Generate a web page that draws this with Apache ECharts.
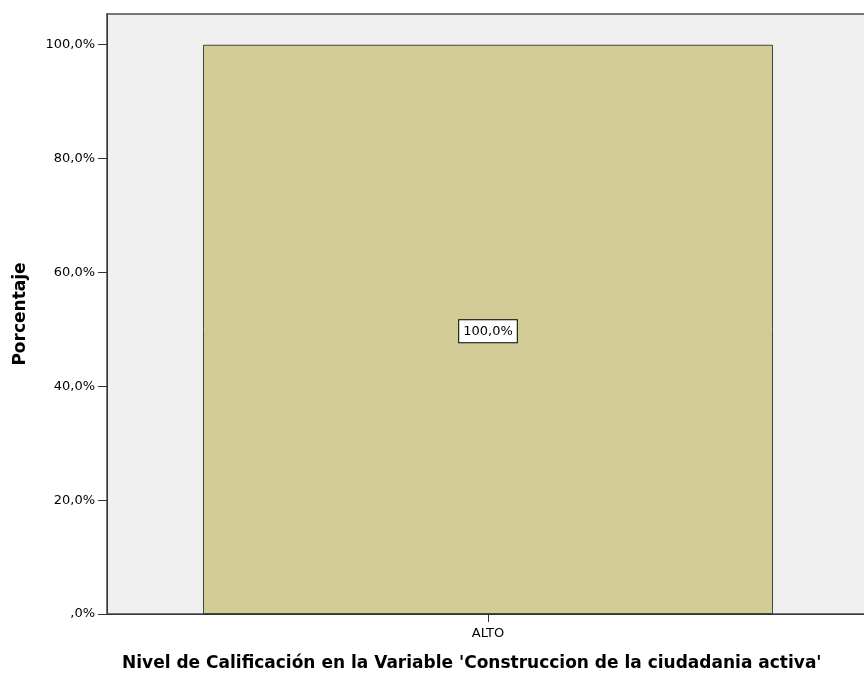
<!DOCTYPE html>
<html>
<head>
<meta charset="utf-8">
<script src="https://cdn.jsdelivr.net/npm/echarts@6/dist/echarts.min.js"></script>
<style>
  html, body { margin: 0; padding: 0; background: #fff; overflow: hidden; }
  /* el área del gráfico sigue un poco más allá del borde derecho */
  #chart { width: 869px; height: 675px; }
</style>
</head>
<body>
<div id="chart"></div>
<script>
const categories = ['ALTO'];
const percentValues = [100];
const yTicks = [0, 20, 40, 60, 80, 100];

// formato español: 100,0% / ,0%
function fmtPct(v) {
  let s = v.toFixed(1).replace('.', ',');
  if (s.indexOf('0,') === 0) s = s.slice(1);
  return s + '%';
}

const chart = echarts.init(document.getElementById('chart'));

chart.setOption({
  animation: false,
  textStyle: { fontFamily: 'DejaVu Sans, Arial, sans-serif' },
  title: {
    text: "Nivel de Calificación en la Variable 'Construccion de la ciudadania activa'",
    left: 117,
    top: 650,
    textStyle: { fontSize: 17, fontWeight: 'bold', color: '#000', fontFamily: 'DejaVu Sans' }
  },
  grid: {
    left: 107, right: 0, top: 14, bottom: 61,
    show: true,
    backgroundColor: '#EFEFEF',
    borderColor: '#777',
    borderWidth: 2
  },
  xAxis: {
    type: 'category',
    data: categories,
    axisLine: { lineStyle: { color: '#333', width: 1 } },
    axisTick: { show: true, interval: 0, alignWithLabel: true, length: 8, lineStyle: { color: '#333' } },
    axisLabel: { color: '#000', fontSize: 13, margin: 13 }
  },
  yAxis: {
    type: 'value',
    min: 0,
    max: 105.4,
    interval: 20,
    name: 'Porcentaje',
    nameLocation: 'middle',
    nameRotate: 90,
    nameGap: 78,
    nameTextStyle: { fontSize: 17, fontWeight: 'bold', color: '#000', fontFamily: 'DejaVu Sans' },
    splitLine: { show: false },
    axisLine: { show: true, lineStyle: { color: '#333', width: 1 } },
    axisTick: { show: true, length: 9, customValues: yTicks, lineStyle: { color: '#333' } },
    axisLabel: {
      color: '#000', fontSize: 13, margin: 12,
      customValues: yTicks,
      formatter: v => fmtPct(v)
    }
  },
  series: [{
    type: 'bar',
    data: percentValues,
    barWidth: 570,
    itemStyle: { color: '#D2CD97', borderColor: '#444', borderWidth: 1 },
    label: {
      show: true,
      position: 'inside',
      offset: [0, 2],
      formatter: p => fmtPct(p.value),
      color: '#000',
      fontSize: 13,
      backgroundColor: '#fff',
      borderColor: '#000',
      borderWidth: 1,
      padding: [5, 4, 4, 4]
    }
  }]
});
</script>
</body>
</html>
